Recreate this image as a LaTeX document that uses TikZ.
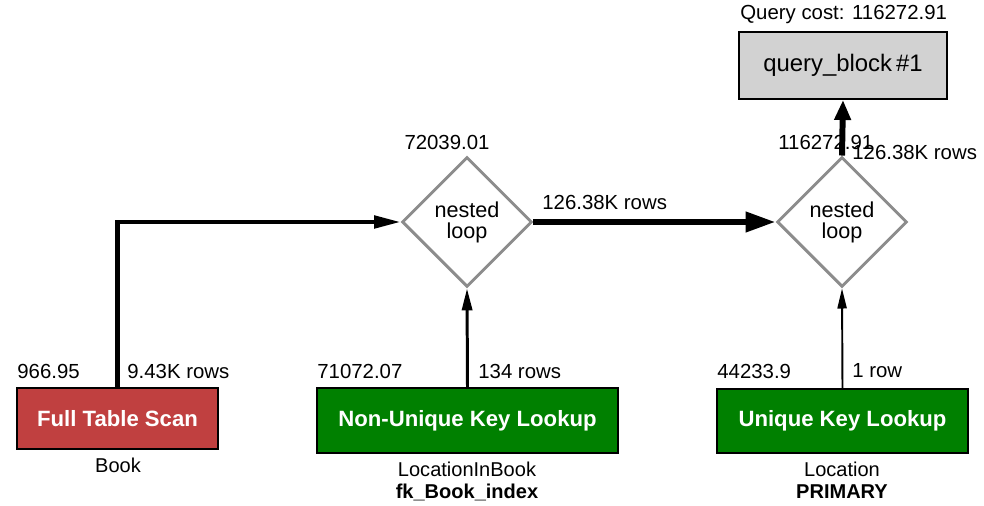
\documentclass[tikz,border=0pt]{standalone}
\usepackage{fontspec}
\setmainfont{Liberation Sans}
\usepackage{xcolor}
\usepackage{tikz}
\usetikzlibrary{shapes.geometric, arrows.meta, positioning}
\definecolor{scanred}{RGB}{192,64,64}
\definecolor{lookupgreen}{RGB}{0,128,0}
\definecolor{blockgray}{RGB}{210,210,210}
\definecolor{loopgray}{RGB}{140,140,140}

\begin{document}
\begin{tikzpicture}[
		x=0.02cm, y=-0.02cm,
		% Define styles for the operations and the flows
		op_box/.style={
			rectangle,
			draw=black,
			line width=1.1pt,
			text=white,
			font=\fontsize{12.6}{14}\selectfont\bfseries,
			inner sep=0pt
		},
		loop_node/.style={
			diamond,
			draw=loopgray,
			line width=1.7pt,
			fill=white,
			align=center,
			font=\fontsize{12.3}{12}\selectfont,
			minimum width=2.6cm,
			minimum height=2.6cm,
			inner sep=0pt
		},
		block_node/.style={
			rectangle,
			draw=black,
			line width=1.1pt,
			fill=blockgray,
			font=\fontsize{13.6}{15}\selectfont,
			minimum width=4.16cm,
			minimum height=1.34cm
		},
		cost_label/.style={
			anchor=west,
			inner sep=0pt,
			font=\fontsize{11.6}{13}\selectfont
		},
		table_label/.style={
			align=center,
			inner sep=0pt,
			font=\fontsize{11.4}{12.5}\selectfont
		},
		flow_arrow/.style={
			draw=black
		},
	]
	\useasboundingbox (0, 0) rectangle (984, 506);
	
	% ----- Nodes -----
	% Query block on top
	\node[block_node] (query_block) at (843, 65.5) {query\_block\,\#1};
	\node[cost_label] (query_cost) at (740, 15) {Query cost: 116272.91};
	
	% The two nested loops
	\node[loop_node] (loop_one) at (467, 222) {nested\\loop};
	\node[loop_node] (loop_two) at (842, 222) {nested\\loop};
	\node[cost_label, anchor=center] (loop_one_cost) at (447, 142) {72039.01};
	\node[cost_label] (loop_two_cost) at (778, 142) {116272.91};
	
	% Access operations at the bottom
	\node[op_box, fill=scanred, minimum width=4.02cm, minimum height=1.22cm] (full_scan) at (117.5, 418.5) {Full Table Scan};
	\node[op_box, fill=lookupgreen, minimum width=6.02cm, minimum height=1.30cm] (nonunique_lookup) at (467.5, 420.5) {Non-Unique Key Lookup};
	\node[op_box, fill=lookupgreen, minimum width=5.02cm, minimum height=1.28cm] (unique_lookup) at (842.5, 421) {Unique Key Lookup};
	
	% Costs above the operations
	\node[cost_label] (full_scan_cost) at (17, 371) {966.95};
	\node[cost_label] (nonunique_cost) at (317, 371) {71072.07};
	\node[cost_label] (unique_cost) at (717, 371) {44233.9};
	
	% Tables and keys below the operations
	\node[table_label, anchor=north] (book_table) at (118, 458) {Book};
	\node[table_label, anchor=north] (lib_table) at (467, 462) {LocationInBook\\\textbf{fk\_Book\_index}};
	\node[table_label, anchor=north] (loc_table) at (842, 462) {Location\\\textbf{PRIMARY}};
	
	% ----- Arrows -----
	% Rows going into the first loop
	\draw[flow_arrow, line width=2.3pt, -{Triangle[length=15pt, width=7pt]}] (full_scan.north) |- (loop_one.west);
	\node[cost_label] (full_scan_rows) at (127, 371) {9.43K rows};
	\draw[flow_arrow, line width=1.7pt, -{Triangle[length=12.5pt, width=5.8pt]}] (nonunique_lookup.north) -- (loop_one.south);
	\node[cost_label] (nonunique_rows) at (478, 371) {134 rows};
	
	% Rows going into the second loop
	\draw[flow_arrow, line width=3.4pt, -{Triangle[length=17pt, width=11pt]}] (loop_one.east) -- (loop_two.west);
	\node[cost_label] (loop_one_rows) at (542, 202) {126.38K rows};
	\draw[flow_arrow, line width=1.1pt, -{Triangle[length=11.4pt, width=5.2pt]}] (unique_lookup.north) -- (loop_two.south);
	\node[cost_label] (unique_rows) at (852, 371) {1 row};
	
	% Result of the query block
	\draw[flow_arrow, line width=3.4pt, -{Triangle[length=11.4pt, width=9pt]}] (loop_two.north) -- (query_block.south);
	\node[cost_label] (loop_two_rows) at (852, 152) {126.38K rows};
\end{tikzpicture}
\end{document}
